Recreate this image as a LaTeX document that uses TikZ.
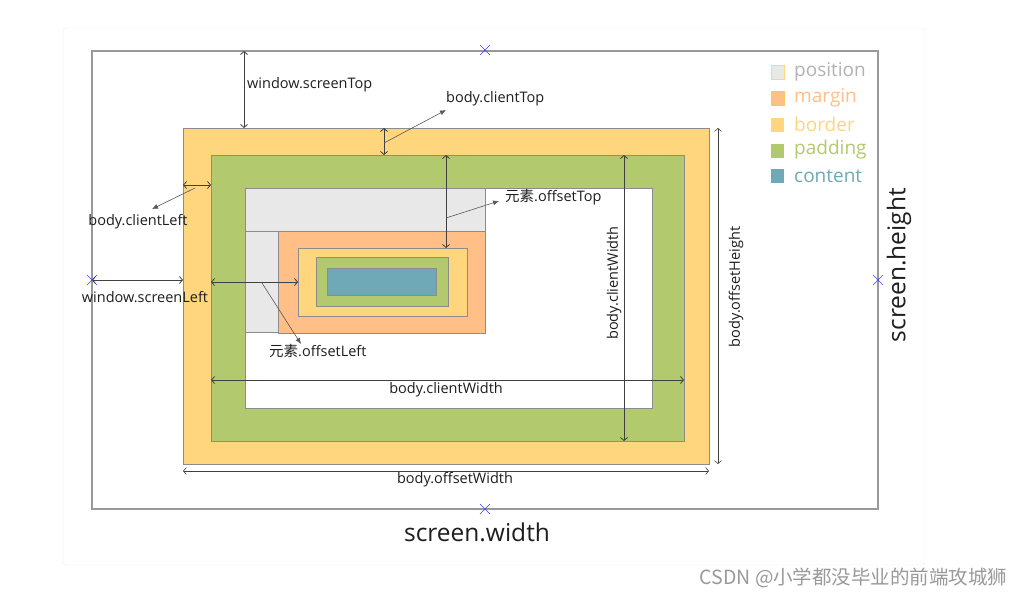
\documentclass[tikz,border=0pt]{standalone}
\usepackage{fontspec}
\setmainfont{Open Sans}
\newfontfamily\cjkfont{Noto Sans CJK SC}
\usetikzlibrary{arrows.meta,positioning}

\definecolor{edgegray}{HTML}{8C8C8C}
\definecolor{posfill}{HTML}{E8E8E8}
\definecolor{marginfill}{HTML}{FFBF86}
\definecolor{borderfill}{HTML}{FFD57E}
\definecolor{paddingfill}{HTML}{B3C96E}
\definecolor{contentfill}{HTML}{6FA8B6}
\definecolor{inkgray}{HTML}{1E1E1E}

\tikzset{
  box/.style={draw=edgegray, line width=1pt},
  dim/.style={draw=black!75, line width=0.8pt,
    {Straight Barb[length=3pt,width=7pt]}-{Straight Barb[length=3pt,width=7pt]}},
  lead/.style={draw=black!65, line width=0.6pt, -{Latex[length=6pt,width=5pt]}},
  lbl/.style={font=\fontsize{14.5}{16}\selectfont, text=inkgray, inner sep=1pt},
  big/.style={font=\fontsize{24.5}{28}\selectfont, text=inkgray, inner sep=1pt},
  legtext/.style={font=\fontsize{19}{22}\selectfont, anchor=west, inner sep=0pt},
  xmark/.style={draw=blue!75, line width=0.6pt}
}

\begin{document}
\begin{tikzpicture}[x=1pt,y=-1pt]
\useasboundingbox (0,0) rectangle (1025,597);
% Card
\draw[black!7, fill=white, rounded corners=3pt] (63,28) rectangle (925,565);

% Screen
\draw[box, draw=black!40, line width=1.2pt, fill=white] (92,51) rectangle (878,509);
\foreach \px/\py in {485/50, 92/280, 878/280, 485/509}
  \draw[xmark] (\px-5,\py-5) -- (\px+5,\py+5) (\px-5,\py+5) -- (\px+5,\py-5);

% Body: border, padding, inner area
\draw[box, fill=borderfill] (183,128) rectangle (709,464);
\draw[box, fill=paddingfill] (211,155) rectangle (684,441);
\draw[box, fill=white] (245,188) rectangle (652,408);

% Element: position offsets, margin, border, padding, content
\draw[box, fill=posfill] (245,188) rectangle (485,231);
\draw[box, fill=posfill] (245,231) rectangle (278,332);
\draw[box, fill=marginfill] (278,231) rectangle (485,333);
\draw[box, fill=borderfill] (298,248) rectangle (467,316);
\draw[box, fill=paddingfill] (316,257) rectangle (448,306);
\draw[box, fill=contentfill] (327,268) rectangle (436,295);

% Dimension end points
\coordinate (stTop) at (244,51);   \coordinate (stBot) at (244,128);
\coordinate (ctTop) at (384,128);  \coordinate (ctBot) at (384,155);
\coordinate (ctMid) at (384,143);
\coordinate (clL) at (183,185);    \coordinate (clR) at (211,185);
\coordinate (clMid) at (195,188);
\coordinate (slL) at (92,280);     \coordinate (slR) at (183,280);
\coordinate (olL) at (211,282);    \coordinate (olR) at (298,282);
\coordinate (olMid) at (262,283);
\coordinate (otTop) at (446,155);  \coordinate (otBot) at (446,248);
\coordinate (otMid) at (446,218);
\coordinate (cwL) at (211,380);    \coordinate (cwR) at (684,380);
\coordinate (chTop) at (624,155);  \coordinate (chBot) at (624,441);
\coordinate (ohTop) at (718,128);  \coordinate (ohBot) at (718,464);
\coordinate (owL) at (183,471);    \coordinate (owR) at (709,471);

% Labels
\node[lbl, anchor=west] (screenTop) at (246,85) {window.screenTop};
\node[lbl, anchor=west] (clientTop) at (445,99) {body.clientTop};
\node[lbl] (clientLeft) at (138,222) {body.clientLeft};
\node[lbl] (screenLeft) at (145,297) {window.screenLeft};
\node[lbl, anchor=west] (offsetTop) at (504,197) {{\cjkfont 元素}.offsetTop};
\node[lbl, anchor=west] (offsetLeft) at (268,351) {{\cjkfont 元素}.offsetLeft};
\node[lbl] (clientWidthH) at (446,390) {body.clientWidth};
\node[lbl, rotate=90] (clientWidthV) at (614,283) {body.clientWidth};
\node[lbl, rotate=90] (offsetHeight) at (736,287) {body.offsetHeight};
\node[lbl] (offsetWidth) at (455,480) {body.offsetWidth};
\node[big] (screenWidth) at (477,532) {screen.width};
\node[big, rotate=90] (screenHeight) at (899,265) {screen.height};

% Dimension arrows
\draw[dim] (stTop) -- (stBot);
\draw[dim] (ctTop) -- (ctBot);
\draw[dim] (clL) -- (clR);
\draw[dim] (slL) -- (slR);
\draw[dim] (olL) -- (olR);
\draw[dim] (otTop) -- (otBot);
\draw[dim] (cwL) -- (cwR);
\draw[dim] (chTop) -- (chBot);
\draw[dim, line width=0.6pt] (ohTop) -- (ohBot);
\draw[dim, line width=0.6pt] (owL) -- (owR);

% Leader lines
\draw[lead] (ctMid) -- (446,110);
\draw[lead] (clMid) -- (152,209);
\draw[lead] (otMid) -- (499,201);
\draw[lead] (olMid) -- (301,344);

% Legend
\foreach \i/\name/\col in {0/position/black!30, 1/margin/marginfill, 2/border/borderfill, 3/padding/paddingfill, 4/content/contentfill}
  \node[legtext, text=\col] (leg\name) at (794,72+26*\i) {\name};
\draw[borderfill, line width=1pt, fill=posfill] (771,65) rectangle (784,79);
\draw[borderfill!80!orange, line width=1pt, fill=marginfill] (771,91) rectangle (784,105);
\fill[borderfill] (771,118) rectangle (784,132);
\fill[paddingfill] (771,144) rectangle (784,158);
\fill[contentfill] (771,169) rectangle (784,183);

% Watermark
\node[anchor=east, text=black!40, font=\cjkfont\fontsize{19.5}{22}\selectfont] (mark) at (1011,578) {CSDN @小学都没毕业的前端攻城狮};
\end{tikzpicture}
\end{document}
